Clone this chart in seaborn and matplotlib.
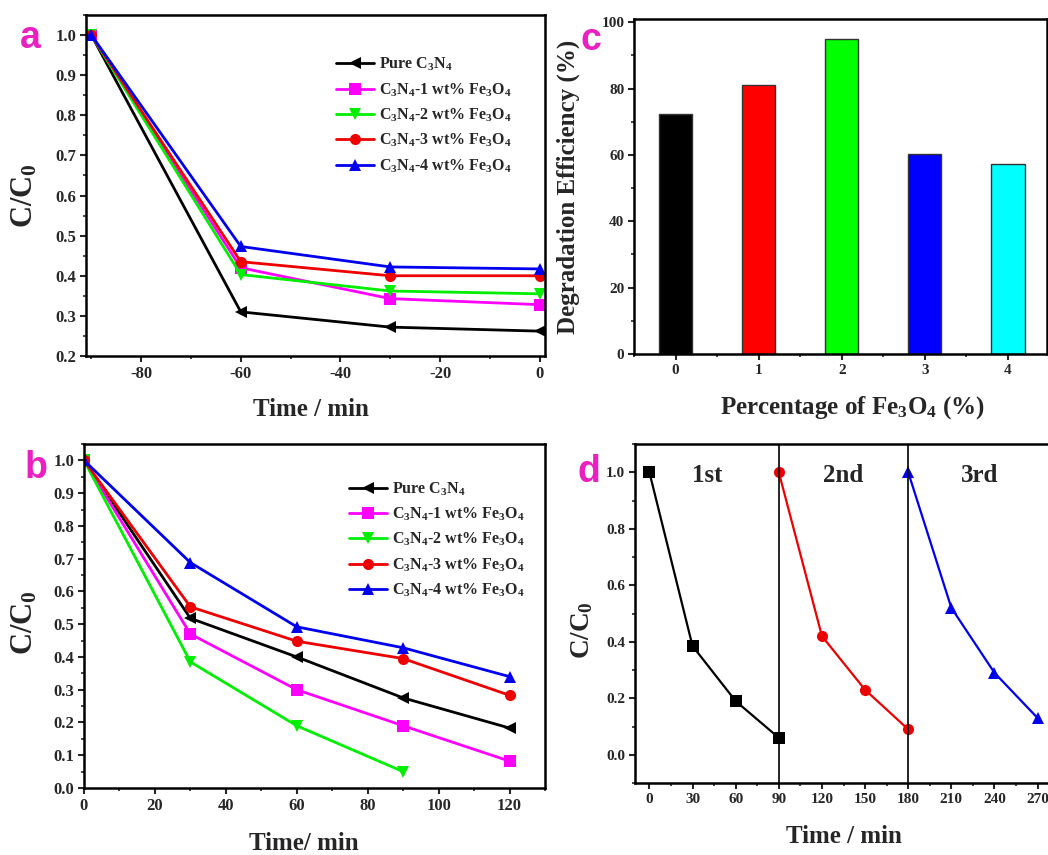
import matplotlib
matplotlib.use("Agg")
import matplotlib.pyplot as plt
import seaborn as sns
from matplotlib.ticker import MultipleLocator

# ---- data ----
series_names = ['Pure C$_3$N$_4$', 'C$_3$N$_4$-1 wt% Fe$_3$O$_4$', 'C$_3$N$_4$-2 wt% Fe$_3$O$_4$',
                'C$_3$N$_4$-3 wt% Fe$_3$O$_4$', 'C$_3$N$_4$-4 wt% Fe$_3$O$_4$']
series_colors = ['black', '#FF00FF', '#00EE00', '#EE0000', '#0000EE']
series_markers = ['<', 's', 'v', 'o', '^']

# (a) dark adsorption
time_dark = [-90, -60, -30, 0]
dark_pure = [1.0, 0.310, 0.272, 0.262]
dark_1wt = [1.0, 0.420, 0.343, 0.328]
dark_2wt = [1.0, 0.403, 0.362, 0.355]
dark_3wt = [1.0, 0.435, 0.400, 0.400]
dark_4wt = [1.0, 0.473, 0.422, 0.417]

# (b) photocatalytic degradation
time_light = [0, 30, 60, 90, 120]
light_pure = [1.0, 0.518, 0.400, 0.275, 0.183]
light_1wt = [1.0, 0.470, 0.300, 0.190, 0.082]
light_2wt = [1.0, 0.385, 0.190, 0.050]
light_3wt = [1.0, 0.553, 0.448, 0.395, 0.283]
light_4wt = [1.0, 0.688, 0.492, 0.428, 0.340]

# (c) degradation efficiency
fe_percent = ['0', '1', '2', '3', '4']
efficiency = [72.5, 81.0, 95.0, 60.3, 57.2]
bar_colors = ['black', '#FF0000', '#00FF00', '#0000FF', '#00FFFF']

# (d) recycling runs
cycle_times = [[0, 30, 60, 90], [90, 120, 150, 180], [180, 210, 240, 270]]
cycle_values = [[1.0, 0.385, 0.19, 0.06], [1.0, 0.42, 0.23, 0.09], [1.0, 0.52, 0.29, 0.13]]
cycle_labels = ['1st', '2nd', '3rd']
cycle_colors = ['black', '#EE0000', '#0000EE']
cycle_markers = ['s', 'o', '^']

sns.set_style('white')
plt.rcParams['font.family'] = ['Liberation Serif', 'DejaVu Serif']
plt.rcParams['font.weight'] = 'bold'
plt.rcParams['mathtext.default'] = 'regular'
plt.rcParams['axes.unicode_minus'] = False
plt.rcParams['axes.linewidth'] = 1.8

W, H = 1048, 855
fig = plt.figure(figsize=(W / 100, H / 100), dpi=100)


def box(l, t, r, b):
    return [l / W, 1 - b / H, (r - l) / W, (b - t) / H]


ax_a = fig.add_axes(box(86, 15, 545, 356))
ax_b = fig.add_axes(box(84, 444, 545, 788))
ax_c = fig.add_axes(box(634, 19, 1047, 354))
ax_d = fig.add_axes(box(635, 444, 1052, 783))


def style_axis(ax, xlabel, ylabel, xlab_pos, ylab_pos, xsize, ysize, ticksize):
    for s in ax.spines.values():
        s.set_visible(True)
        s.set_color('black')
        s.set_linewidth(1.8)
    ax.tick_params(which='major', direction='out', length=4, width=1.5, pad=3,
                   labelsize=ticksize, bottom=True, left=True, top=False, right=False)
    ax.tick_params(which='minor', direction='out', length=2.5, width=1.2,
                   bottom=True, left=True, top=False, right=False)
    for lab in ax.get_xticklabels() + ax.get_yticklabels():
        lab.set_fontweight('bold')
    ax.set_xlabel(xlabel, fontsize=xsize, fontweight='bold')
    ax.set_ylabel(ylabel, fontsize=ysize, fontweight='bold')
    ax.xaxis.label.set_va('center')
    ax.yaxis.label.set_va('center')
    ax.xaxis.set_label_coords(*xlab_pos)
    ax.yaxis.set_label_coords(*ylab_pos)


def draw_series(ax, t, ys, anchor):
    for name, vals, c, m in zip(series_names, ys, series_colors, series_markers):
        sns.lineplot(x=t[:len(vals)], y=vals, color=c, marker=m, markersize=8,
                     markeredgewidth=0, linewidth=2, label=name, ax=ax)
    ax.legend(loc='upper left', bbox_to_anchor=anchor, frameon=False,
              prop={'family': 'Liberation Serif', 'weight': 'bold', 'size': 11.5},
              handlelength=2.4, labelspacing=0.5, handletextpad=0.3,
              borderpad=0, borderaxespad=0)


# ---- (a) ----
draw_series(ax_a, time_dark, [dark_pure, dark_1wt, dark_2wt, dark_3wt, dark_4wt], (0.545, 0.88))
ax_a.set_xlim(-91.07, 1.07)
ax_a.set_ylim(0.2, 1.05)
ax_a.xaxis.set_major_locator(MultipleLocator(20))
ax_a.xaxis.set_minor_locator(MultipleLocator(10))
ax_a.yaxis.set_major_locator(MultipleLocator(0.1))
ax_a.yaxis.set_minor_locator(MultipleLocator(0.05))
ax_a.set_yticklabels([f'{v:.1f}' for v in ax_a.get_yticks()])
style_axis(ax_a, 'Time / min', 'C/C$_0$', (0.49, -0.158), (-0.133, 0.47), 18, 22, 12)

# ---- (b) ----
draw_series(ax_b, time_light, [light_pure, light_1wt, light_2wt, light_3wt, light_4wt], (0.575, 0.895))
ax_b.set_xlim(0, 130)
ax_b.set_ylim(0, 1.05)
ax_b.xaxis.set_major_locator(MultipleLocator(20))
ax_b.xaxis.set_minor_locator(MultipleLocator(10))
ax_b.yaxis.set_major_locator(MultipleLocator(0.1))
ax_b.yaxis.set_minor_locator(MultipleLocator(0.05))
ax_b.set_yticklabels([f'{v:.1f}' for v in ax_b.get_yticks()])
style_axis(ax_b, 'Time/ min', 'C/C$_0$', (0.476, -0.16), (-0.128, 0.48), 18, 22, 12)

# ---- (c) ----
sns.barplot(x=fe_percent, y=efficiency, hue=fe_percent, palette=bar_colors, saturation=1,
            width=0.4, edgecolor='#333333', linewidth=1, legend=False, ax=ax_c)
ax_c.set_xlim(-0.5, 4.47)
ax_c.set_ylim(0, 101)
ax_c.xaxis.set_minor_locator(MultipleLocator(0.5))
ax_c.yaxis.set_major_locator(MultipleLocator(20))
ax_c.yaxis.set_minor_locator(MultipleLocator(10))
style_axis(ax_c, 'Percentage of Fe$_3$O$_4$ (%)', 'Degradation Efficiency (%)',
           (0.53, -0.161), (-0.16, 0.5), 18, 18, 11)

# ---- (d) ----
for t, v, c, m in zip(cycle_times, cycle_values, cycle_colors, cycle_markers):
    sns.lineplot(x=t, y=v, color=c, marker=m, markersize=8, markeredgewidth=0,
                 linewidth=1.6, ax=ax_d)
for xv in [90, 180]:
    ax_d.axvline(xv, color='black', linewidth=1.2)
for lab, xc in zip(cycle_labels, [40, 135, 230]):
    ax_d.text(xc, 0.99, lab, ha='center', va='center', fontsize=18, fontweight='bold')
ax_d.set_xlim(-10, 280)
ax_d.set_ylim(-0.1, 1.1)
ax_d.xaxis.set_major_locator(MultipleLocator(30))
ax_d.xaxis.set_minor_locator(MultipleLocator(15))
ax_d.yaxis.set_minor_locator(MultipleLocator(0.1))
ax_d.set_yticks([0, 0.2, 0.4, 0.6, 0.8, 1.0])
ax_d.set_yticklabels([f'{v:.1f}' for v in [0, 0.2, 0.4, 0.6, 0.8, 1.0]])
style_axis(ax_d, 'Time / min', 'C/C$_0$', (0.50, -0.159), (-0.127, 0.45), 18, 19.5, 11)

# panel letters
for lab, (px, py) in zip('abcd', [(30, 38), (36, 468), (591, 40), (589, 472)]):
    fig.text(px / W, 1 - py / H, lab, ha='center', va='center', color='#EC1FC0',
             fontsize=27, fontweight='bold', family='Liberation Sans')

fig.savefig('out.png', dpi=100)
